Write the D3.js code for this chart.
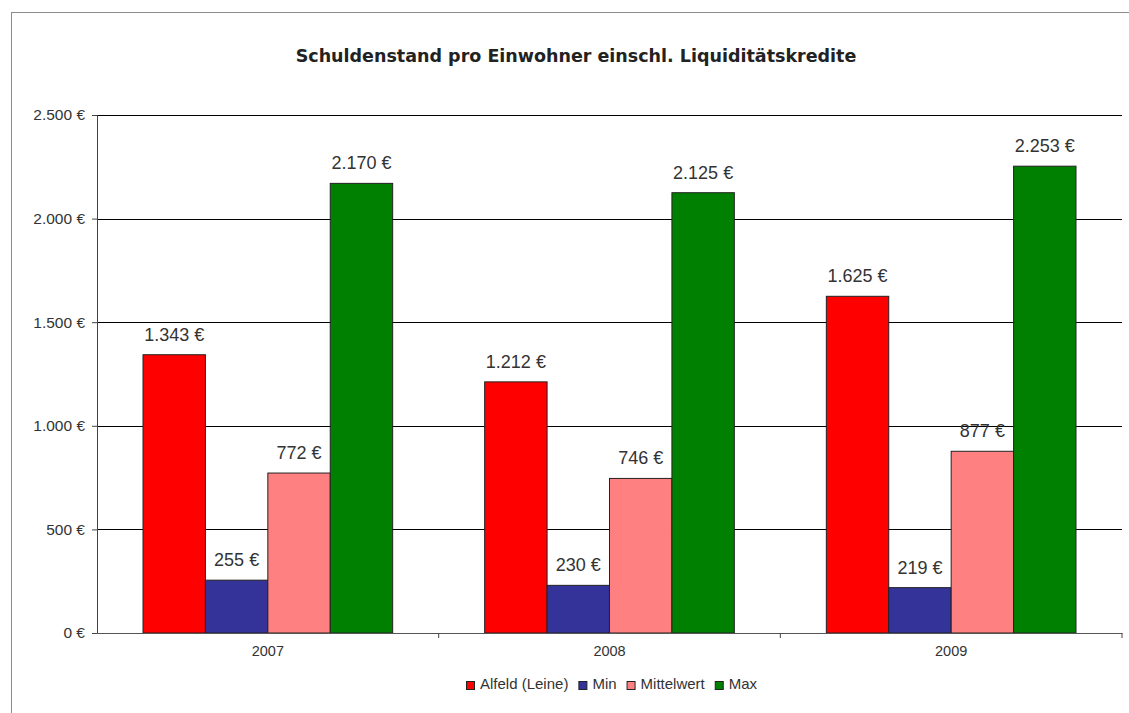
<!DOCTYPE html>
<html>
<head>
<meta charset="utf-8">
<script src="https://cdn.jsdelivr.net/npm/d3@7"></script>
<style>
  body { margin: 0; background: #fff; }
  svg { display: block; font-family: "Liberation Sans", Arial, sans-serif; }
</style>
</head>
<body>
<svg id="chart"></svg>
<script>
const years = ["2007", "2008", "2009"];
const seriesNames = ["Alfeld (Leine)", "Min", "Mittelwert", "Max"];
const seriesColors = ["#ff0000", "#333399", "#ff8080", "#008000"];
const alfeld = [1343, 1212, 1625];
const minVals = [255, 230, 219];
const mittel = [772, 746, 877];
const maxVals = [2170, 2125, 2253];
const yTicks = [0, 500, 1000, 1500, 2000, 2500];

const W = 1129, H = 713;
const margin = { top: 115, left: 97, right: 7, bottom: 80 };
const innerW = W - margin.left - margin.right;
const innerH = H - margin.top - margin.bottom;
const font = "'Liberation Sans', Arial, sans-serif";

const svg = d3.select("#chart").attr("width", W).attr("height", H);

// chart frame
svg.append("rect")
    .attr("x", 11.5).attr("y", 12.5)
    .attr("width", W).attr("height", H)
    .attr("fill", "none").attr("stroke", "#8c8c8c");

svg.append("text")
    .attr("x", 576).attr("y", 62)
    .attr("text-anchor", "middle")
    .style("font-family", "'DejaVu Sans', Verdana, sans-serif")
    .style("font-size", "17.5px").style("font-weight", "bold")
    .attr("fill", "#222")
    .text("Schuldenstand pro Einwohner einschl. Liquiditätskredite");

const fmt = v => d3.format(",")(v).replace(/,/g, ".") + " €";

const data = seriesNames.map((name, i) => ({
    name: name,
    color: seriesColors[i],
    values: [alfeld, minVals, mittel, maxVals][i]
}));

const x0 = d3.scaleBand().domain(years).range([0, innerW]);
const x1 = d3.scaleBand().domain(seriesNames)
    .range([46, x0.bandwidth() - 46]);
const y = d3.scaleLinear().domain([0, 2500]).range([innerH, 0]);

const g = svg.append("g")
    .attr("transform", `translate(${margin.left},${margin.top})`);

// gridlines
g.selectAll(".grid")
    .data(yTicks.slice(1))
    .enter().append("line")
    .attr("x1", 0).attr("x2", innerW)
    .attr("y1", d => Math.round(y(d)) + 0.5)
    .attr("y2", d => Math.round(y(d)) + 0.5)
    .attr("stroke", "#000");

// bars
years.forEach((yr, yi) => {
    const grp = g.append("g").attr("transform", `translate(${x0(yr)},0)`);
    data.forEach(s => {
        const v = s.values[yi];
        grp.append("rect")
            .attr("x", x1(s.name))
            .attr("y", y(v))
            .attr("width", x1.bandwidth())
            .attr("height", innerH - y(v))
            .attr("fill", s.color)
            .attr("stroke", "#222").attr("stroke-width", 1);
        grp.append("text")
            .attr("x", x1(s.name) + x1.bandwidth() / 2)
            .attr("y", y(v) - 14)
            .attr("text-anchor", "middle")
            .style("font-size", "18px")
            .attr("fill", "#333")
            .text(fmt(v));
    });
});

// y axis
const yAxis = g.append("g")
    .call(d3.axisLeft(y).tickValues(yTicks).tickFormat(fmt).tickSize(5).tickSizeOuter(5).tickPadding(7));
yAxis.select(".domain").attr("stroke", "#444");
yAxis.selectAll(".tick line").attr("stroke", "#444");
yAxis.selectAll("text").style("font-size", "15.5px").attr("fill", "#333")
    .style("font-family", font);

// x axis
const xAxis = g.append("g")
    .attr("transform", `translate(0,${innerH})`)
    .call(d3.axisBottom(x0).tickSize(0).tickPadding(13));
xAxis.select(".domain").attr("stroke", "#555");
xAxis.selectAll("text").style("font-size", "14.5px").attr("fill", "#333")
    .style("font-family", font);
g.selectAll(".xsep")
    .data(years.slice(1).map(d => x0(d)).concat([innerW]))
    .enter().append("line")
    .attr("x1", d => d).attr("x2", d => d)
    .attr("y1", innerH).attr("y2", innerH + 5)
    .attr("stroke", "#444");

// legend
const legend = svg.append("g").attr("transform", "translate(466,689)");
let lx = 0;
data.forEach(s => {
    const item = legend.append("g").attr("transform", `translate(${lx},0)`);
    item.append("rect")
        .attr("x", 0.5).attr("y", -7.5).attr("width", 8).attr("height", 8)
        .attr("fill", s.color).attr("stroke", "#222");
    const t = item.append("text")
        .attr("x", 14).attr("y", 0)
        .style("font-size", "15px").attr("fill", "#333")
        .text(s.name);
    lx += 14 + t.node().getComputedTextLength() + 10;
});
</script>
</body>
</html>
